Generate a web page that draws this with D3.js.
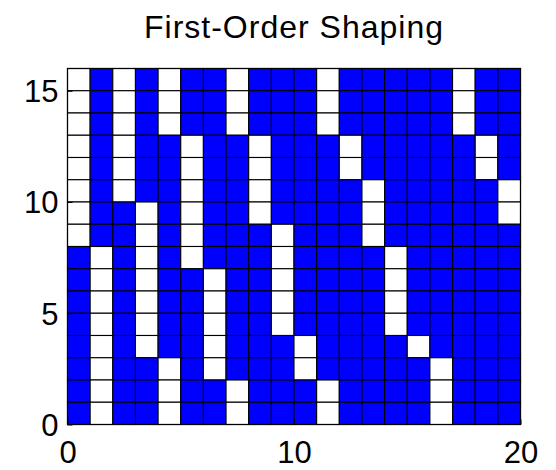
<!DOCTYPE html>
<html>
<head>
<meta charset="utf-8">
<script src="https://cdn.jsdelivr.net/npm/d3@7"></script>
<style>
  html, body { margin: 0; padding: 0; background: #fff; }
  svg { display: block; }
  text { font-family: "Liberation Sans", Arial, Helvetica, sans-serif; fill: #000; }
</style>
</head>
<body>
<svg id="chart" width="556" height="470"></svg>
<script>
// Shaping pattern: one row per y level, listed from y = 15 down to y = 0.
// 1 = active (blue), 0 = inactive (white). Columns are x = 0..19.
const rowLevels = [15, 14, 13, 12, 11, 10, 9, 8, 7, 6, 5, 4, 3, 2, 1, 0];
const columns = [0, 1, 2, 3, 4, 5, 6, 7, 8, 9, 10, 11, 12, 13, 14, 15, 16, 17, 18, 19];
const pattern = [
  [0,1,0,1,0,1,1,0,1,1,1,0,1,1,1,1,1,0,1,1],
  [0,1,0,1,0,1,1,0,1,1,1,0,1,1,1,1,1,0,1,1],
  [0,1,0,1,0,1,1,0,1,1,1,0,1,1,1,1,1,0,1,1],
  [0,1,0,1,1,0,1,1,0,1,1,1,0,1,1,1,1,1,0,1],
  [0,1,0,1,1,0,1,1,0,1,1,1,0,1,1,1,1,1,0,1],
  [0,1,0,1,1,0,1,1,0,1,1,1,1,0,1,1,1,1,1,0],
  [0,1,1,0,1,0,1,1,0,1,1,1,1,0,1,1,1,1,1,0],
  [0,1,1,0,1,0,1,1,1,0,1,1,1,0,1,1,1,1,1,1],
  [1,0,1,0,1,0,1,1,1,0,1,1,1,1,0,1,1,1,1,1],
  [1,0,1,0,1,1,0,1,1,0,1,1,1,1,0,1,1,1,1,1],
  [1,0,1,0,1,1,0,1,1,0,1,1,1,1,0,1,1,1,1,1],
  [1,0,1,0,1,1,0,1,1,0,1,1,1,1,0,1,1,1,1,1],
  [1,0,1,0,1,1,0,1,1,1,0,1,1,1,1,0,1,1,1,1],
  [1,0,1,1,0,1,0,1,1,1,0,1,1,1,1,1,0,1,1,1],
  [1,0,1,1,0,1,1,0,1,1,1,0,1,1,1,1,0,1,1,1],
  [1,0,1,1,0,1,1,0,1,1,1,0,1,1,1,1,0,1,1,1]
];
const xTicks = [0, 10, 20];
const yTicks = [0, 5, 10, 15];
const titleText = "First-Order Shaping";

const svg = d3.select("#chart");
const plot = { left: 67.5, right: 520.5, top: 68.5, bottom: 424.5 };

const x = d3.scaleLinear().domain([0, 20]).range([plot.left, plot.right]);
const y = d3.scaleLinear().domain([0, 16]).range([plot.bottom, plot.top]);

const cells = [];
pattern.forEach((row, i) => {
  row.forEach((v, j) => {
    cells.push({ x: columns[j], y: rowLevels[i], on: v });
  });
});

// cells
svg.append("g")
  .selectAll("rect")
  .data(cells)
  .join("rect")
  .attr("x", d => x(d.x))
  .attr("y", d => y(d.y + 1))
  .attr("width", d => x(d.x + 1) - x(d.x))
  .attr("height", d => y(d.y) - y(d.y + 1))
  .attr("fill", d => d.on ? "#0000ff" : "#ffffff")
  .attr("stroke", "#000")
  .attr("stroke-width", 1.1);

// axes with inward ticks, box around the plot
const fontSize = 31;
const xAxis = svg.append("g")
  .attr("transform", `translate(0,${plot.bottom})`)
  .call(d3.axisBottom(x).tickValues(xTicks).tickSize(-5).tickPadding(0).tickFormat(d3.format("d")));
const yAxis = svg.append("g")
  .attr("transform", `translate(${plot.left},0)`)
  .call(d3.axisLeft(y).tickValues(yTicks).tickSize(-5).tickPadding(0).tickFormat(d3.format("d")));

[xAxis, yAxis].forEach(g => {
  g.select(".domain").remove();
  g.selectAll(".tick line").attr("stroke", "#000");
  g.selectAll(".tick text").style("font-size", fontSize + "px").attr("fill", "#000");
});
xAxis.selectAll(".tick text").attr("dy", null).attr("y", 38).attr("dominant-baseline", "auto");
yAxis.selectAll(".tick text").attr("x", -9).attr("dy", "0.35em");

svg.append("rect")
  .attr("x", plot.left).attr("y", plot.top)
  .attr("width", plot.right - plot.left).attr("height", plot.bottom - plot.top)
  .attr("fill", "none").attr("stroke", "#000").attr("stroke-width", 1.2);

// title
svg.append("text")
  .attr("x", (plot.left + plot.right) / 2)
  .attr("y", 37.5)
  .attr("text-anchor", "middle")
  .style("font-size", "32px")
  .style("letter-spacing", "1px")
  .text(titleText);
</script>
</body>
</html>
